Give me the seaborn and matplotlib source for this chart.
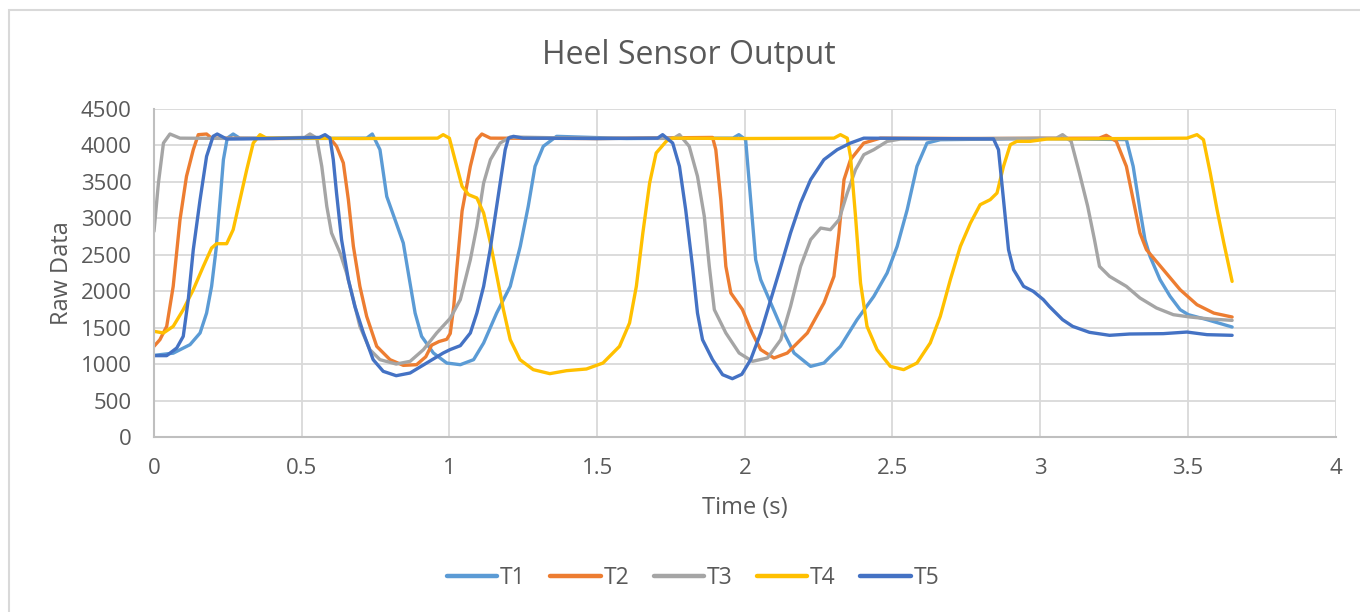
import matplotlib
matplotlib.use("Agg")
import matplotlib.pyplot as plt
from matplotlib.patches import Rectangle
import numpy as np
import pandas as pd
import seaborn as sns

# ---- sensor traces (time in s, raw ADC counts) ----
t1_time = [0, 0.065, 0.122, 0.156, 0.178, 0.195, 0.21, 0.224, 0.235, 0.248, 0.268, 0.29, 0.5, 0.72,
           0.739, 0.765, 0.788, 0.82, 0.844, 0.861, 0.884, 0.906, 0.946, 0.991, 1.037, 1.082, 1.116,
           1.16, 1.206, 1.24, 1.267, 1.29, 1.318, 1.363, 1.6, 1.96, 1.98, 2.003, 2.02, 2.037, 2.054,
           2.088, 2.122, 2.167, 2.223, 2.268, 2.324, 2.38, 2.437, 2.482, 2.516, 2.55, 2.583, 2.617,
           2.662, 3.0, 3.292, 3.315, 3.338, 3.355, 3.372, 3.406, 3.44, 3.474, 3.502, 3.565, 3.65]
t1_raw = [1120, 1150, 1267, 1427, 1700, 2067, 2570, 3256, 3805, 4100, 4157, 4100, 4095, 4100,
          4157, 3942, 3300, 2936, 2661, 2250, 1700, 1381, 1152, 1015, 992, 1061, 1290,
          1700, 2067, 2616, 3165, 3713, 3988, 4125, 4095, 4100, 4148, 4079, 3256, 2433, 2158,
          1838, 1518, 1152, 969, 1015, 1244, 1609, 1930, 2250, 2616, 3119, 3713, 4033,
          4079, 4095, 4080, 3713, 3119, 2707, 2478, 2158, 1930, 1747, 1678, 1610, 1509]

t2_time = [0, 0.02, 0.043, 0.065, 0.088, 0.11, 0.133, 0.15, 0.178, 0.195, 0.4, 0.596, 0.618, 0.641,
           0.658, 0.675, 0.697, 0.72, 0.754, 0.799, 0.844, 0.889, 0.92, 0.94, 0.965, 0.991, 1.003,
           1.015, 1.025, 1.043, 1.071, 1.093, 1.11, 1.139, 1.5, 1.891, 1.902, 1.919, 1.936, 1.953,
           1.992, 2.02, 2.054, 2.099, 2.144, 2.212, 2.268, 2.302, 2.319, 2.336, 2.358, 2.403, 2.459,
           2.8, 3.2, 3.224, 3.258, 3.292, 3.315, 3.338, 3.36, 3.417, 3.474, 3.531, 3.588, 3.65]
t2_raw = [1244, 1335, 1518, 2067, 2981, 3576, 3942, 4148, 4157, 4100, 4095, 4100, 3988, 3760,
          3256, 2616, 2067, 1655, 1244, 1061, 983, 992, 1100, 1260, 1310, 1340, 1420,
          1800, 2300, 3100, 3713, 4079, 4157, 4100, 4095, 4110, 3942, 3256, 2341, 1975,
          1750, 1472, 1198, 1084, 1152, 1427, 1838, 2204, 2799, 3530, 3805, 4033, 4100,
          4095, 4100, 4139, 4056, 3713, 3256, 2799, 2570, 2296, 2021, 1815, 1700, 1646]

t3_time = [0, 0.015, 0.032, 0.054, 0.088, 0.3, 0.51, 0.528, 0.551, 0.568, 0.585, 0.601, 0.63, 0.652,
           0.675, 0.697, 0.731, 0.765, 0.82, 0.867, 0.912, 0.957, 1.003, 1.037, 1.071, 1.093, 1.116,
           1.139, 1.172, 1.206, 1.5, 1.76, 1.779, 1.812, 1.84, 1.863, 1.88, 1.897, 1.936, 1.981,
           2.026, 2.077, 2.122, 2.155, 2.189, 2.223, 2.257, 2.29, 2.319, 2.347, 2.375, 2.403, 2.437,
           2.482, 2.527, 2.8, 3.055, 3.076, 3.105, 3.133, 3.161, 3.184, 3.201, 3.235, 3.292, 3.338,
           3.394, 3.451, 3.508, 3.576, 3.65]
t3_raw = [2822, 3485, 4033, 4157, 4100, 4095, 4110, 4157, 4100, 3713, 3165, 2799, 2524, 2250,
          1884, 1518, 1198, 1061, 1001, 1038, 1198, 1427, 1630, 1884, 2433, 2890, 3485,
          3805, 4033, 4116, 4095, 4100, 4148, 3988, 3576, 3028, 2341, 1747, 1427, 1152,
          1038, 1084, 1335, 1792, 2341, 2707, 2867, 2844, 2981, 3347, 3668, 3873, 3942,
          4056, 4088, 4095, 4100, 4148, 4056, 3622, 3165, 2707, 2341, 2204, 2067, 1907,
          1770, 1678, 1646, 1619, 1600]

t4_time = [0, 0.032, 0.065, 0.099, 0.133, 0.167, 0.195, 0.212, 0.246, 0.268, 0.291, 0.314, 0.336,
           0.359, 0.381, 0.7, 0.96, 0.979, 1.0, 1.019, 1.043, 1.065, 1.093, 1.116, 1.139, 1.161,
           1.183, 1.206, 1.239, 1.284, 1.34, 1.397, 1.464, 1.52, 1.576, 1.61, 1.633, 1.655, 1.678,
           1.7, 1.734, 1.756, 2.0, 2.302, 2.324, 2.347, 2.358, 2.375, 2.392, 2.414, 2.448, 2.493,
           2.538, 2.583, 2.628, 2.662, 2.696, 2.73, 2.764, 2.797, 2.831, 2.854, 2.876, 2.899, 2.921,
           2.966, 3.023, 3.3, 3.497, 3.531, 3.553, 3.576, 3.599, 3.622, 3.65]
t4_raw = [1450, 1427, 1518, 1747, 2021, 2341, 2593, 2652, 2652, 2844, 3256, 3668, 4033,
          4148, 4100, 4095, 4100, 4148, 4100, 3805, 3439, 3325, 3279, 3073, 2661, 2204,
          1747, 1335, 1061, 924, 869, 910, 933, 1015, 1244, 1564, 2067, 2799, 3485,
          3896, 4056, 4100, 4095, 4100, 4148, 4100, 3850, 3028, 2113, 1518, 1198, 969,
          924, 1015, 1290, 1655, 2158, 2616, 2935, 3187, 3256, 3347, 3713, 4010, 4056,
          4056, 4088, 4095, 4100, 4148, 4079, 3622, 3119, 2661, 2135]

t5_time = [0, 0.043, 0.077, 0.099, 0.116, 0.133, 0.156, 0.178, 0.2, 0.214, 0.246, 0.4, 0.56, 0.579,
           0.596, 0.607, 0.618, 0.635, 0.658, 0.68, 0.709, 0.742, 0.776, 0.82, 0.867, 0.923, 0.979,
           1.003, 1.037, 1.071, 1.093, 1.116, 1.138, 1.155, 1.172, 1.189, 1.2, 1.217, 1.25, 1.5,
           1.705, 1.722, 1.756, 1.779, 1.8, 1.823, 1.84, 1.857, 1.891, 1.925, 1.958, 1.99, 2.02,
           2.054, 2.088, 2.122, 2.155, 2.189, 2.223, 2.268, 2.313, 2.358, 2.403, 2.6, 2.842, 2.859,
           2.876, 2.893, 2.91, 2.944, 2.977, 3.011, 3.031, 3.076, 3.11, 3.167, 3.235, 3.303, 3.417,
           3.497, 3.565, 3.65]
t5_raw = [1116, 1116, 1221, 1381, 1884, 2570, 3256, 3850, 4125, 4157, 4088, 4095, 4110, 4148,
          4100, 3805, 3347, 2707, 2158, 1792, 1427, 1061, 901, 841, 878, 1015, 1152,
          1200, 1253, 1427, 1700, 2067, 2570, 3028, 3485, 3942, 4100, 4125, 4100, 4095,
          4100, 4148, 4033, 3713, 3119, 2341, 1700, 1335, 1061, 855, 800, 860, 1061,
          1427, 1884, 2341, 2799, 3210, 3530, 3805, 3942, 4033, 4100, 4095, 4090, 3942,
          3256, 2570, 2296, 2067, 1998, 1884, 1792, 1610, 1518, 1436, 1395, 1413, 1418,
          1440, 1404, 1395]

series_names = ["T1", "T2", "T3", "T4", "T5"]
series_colors = ["#5B9BD5", "#ED7D31", "#A5A5A5", "#FFC000", "#4472C4"]
x_ticks = [0, 0.5, 1, 1.5, 2, 2.5, 3, 3.5, 4]
x_tick_labels = ["0", "0.5", "1", "1.5", "2", "2.5", "3", "3.5", "4"]
y_ticks = [0, 500, 1000, 1500, 2000, 2500, 3000, 3500, 4000, 4500]

frames = []
for name, t, v in zip(series_names,
                      [t1_time, t2_time, t3_time, t4_time, t5_time],
                      [t1_raw, t2_raw, t3_raw, t4_raw, t5_raw]):
    frames.append(pd.DataFrame({"Time": t, "Raw": v, "Series": name}))
df = pd.concat(frames, ignore_index=True)

sns.set_theme(style="white")
plt.rcParams["font.family"] = ["Open Sans", "DejaVu Sans"]
TEXT = "#595959"
GRID = "#D9D9D9"

fig = plt.figure(figsize=(13.6, 6.12), dpi=100)
ax = fig.add_axes([154 / 1360, 1 - 437 / 612, (1335.5 - 154) / 1360, (437 - 109) / 612])

sns.lineplot(data=df, x="Time", y="Raw", hue="Series", palette=series_colors,
             hue_order=series_names, sort=False, estimator=None, linewidth=2.4,
             ax=ax, legend=False)
for ln in ax.lines:
    ln.set_solid_joinstyle("round")
    ln.set_solid_capstyle("round")

ax.set_xlim(0, 4)
ax.set_ylim(0, 4500)
ax.set_xticks(x_ticks)
ax.set_xticklabels(x_tick_labels)
ax.set_yticks(y_ticks)
ax.set_yticklabels([str(v) for v in y_ticks])
ax.grid(True, color=GRID, linewidth=1.3)
ax.set_axisbelow(True)
for side in ["top", "right"]:
    ax.spines[side].set_visible(False)
for side in ["left", "bottom"]:
    ax.spines[side].set_color("#BFBFBF")
    ax.spines[side].set_linewidth(1.5)
ax.tick_params(axis="both", length=0, labelsize=16, colors=TEXT)
ax.tick_params(axis="y", pad=16)
ax.tick_params(axis="x", pad=15)

ax.set_xlabel("Time (s)", fontsize=17, color=TEXT)
ax.set_ylabel("Raw Data", fontsize=17, color=TEXT)
ax.xaxis.set_label_coords(0.5, -(508 - 437) / (437 - 109))
ax.yaxis.set_label_coords(-(154 - 62) / (1335.5 - 154), 0.5)
for lbl in [ax.xaxis.label, ax.yaxis.label]:
    lbl.set_verticalalignment("center")

fig.text(689 / 1360, 1 - 55 / 612, "Heel Sensor Output", ha="center", va="center",
         fontsize=23, color=TEXT)

handles = [plt.Line2D([], [], color=c, linewidth=3.2) for c in series_colors]
fig.legend(handles, series_names, loc="center", bbox_to_anchor=(693 / 1360, 1 - 578 / 612),
           ncol=5, frameon=False, fontsize=16.5, handlelength=2.2, handletextpad=0.12,
           columnspacing=1.07, labelcolor=TEXT)

fig.add_artist(Rectangle((9 / 1360, -0.1), 2, (612 - 10) / 612 + 0.1, transform=fig.transFigure,
                         fill=False, edgecolor=GRID, linewidth=1.5))

fig.savefig("out.png", dpi=100, facecolor="white")
